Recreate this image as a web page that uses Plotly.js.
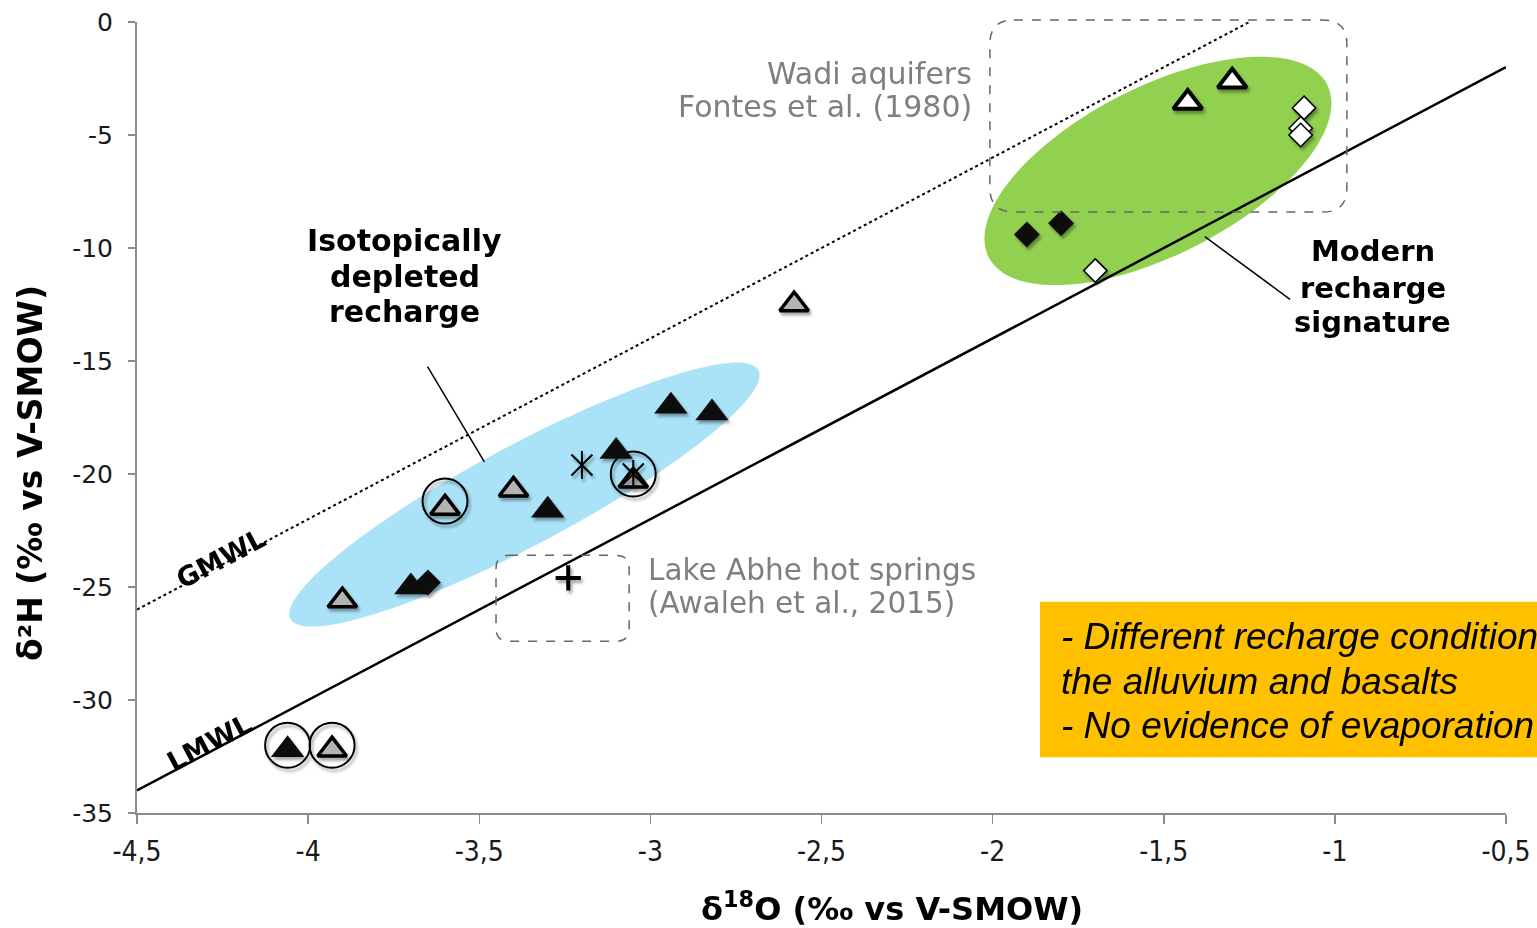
<!DOCTYPE html>
<html>
<head>
<meta charset="utf-8">
<script src="https://cdn.plot.ly/plotly-3.0.1.min.js"></script>
<style>
  html, body { margin: 0; padding: 0; background: #ffffff; }
  #chart { width: 1537px; height: 928px; }
</style>
</head>
<body>
<div id="chart"></div>
<script>
// Stable isotopes of groundwater: δ18O vs δ2H (‰ vs V-SMOW)

// Basalt aquifer samples (black triangles)
const basaltX = [-3.70, -3.30, -3.10, -2.94, -2.82, -4.06];
const basaltY = [-25.0, -21.6, -19.0, -17.0, -17.3, -32.2];
// Alluvial aquifer samples (grey triangles)
const alluviumX = [-3.90, -3.60, -3.40, -3.05, -2.58, -3.93];
const alluviumY = [-25.6, -21.5, -20.7, -20.3, -12.5, -32.2];
// Wadi aquifers, Fontes et al. (1980) (white triangles)
const wadiTriX = [-1.43, -1.30];
const wadiTriY = [-3.56, -2.62];
// Black diamonds
const blackDiaX = [-3.65, -1.90, -1.80];
const blackDiaY = [-24.8, -9.4, -8.9];
// White diamonds
const whiteDiaX = [-1.09, -1.10, -1.10, -1.70];
const whiteDiaY = [-3.8, -4.7, -5.0, -11.0];
// Star samples
const starX = [-3.20, -3.05];
const starY = [-19.6, -20.0];
// Lake Abhe hot springs, Awaleh et al. (2015)
const hotSpringX = [-3.24];
const hotSpringY = [-24.6];
// Highlighted samples (rings)
const ringX = [-3.60, -3.05, -4.06, -3.93];
const ringY = [-21.2, -20.0, -32.0, -32.0];

// Meteoric water lines
const gmwlX = [-4.5, -1.25];
const gmwlY = [-26, 0];
const lmwlX = [-4.5, -0.5];
const lmwlY = [-34, -2];

// Axis ticks
const xTicks = [-4.5, -4, -3.5, -3, -2.5, -2, -1.5, -1, -0.5];
const xTickText = ['-4,5', '-4', '-3,5', '-3', '-2,5', '-2', '-1,5', '-1', '-0,5'];
const yTicks = [0, -5, -10, -15, -20, -25, -30, -35];
const yTickText = ['0', '-5', '-10', '-15', '-20', '-25', '-30', '-35'];

// ---------------------------------------------------------------
const FIG_W = 1537, FIG_H = 928;
const M = { l: 137, r: 31, t: 22, b: 115 };
const PW = FIG_W - M.l - M.r, PH = FIG_H - M.t - M.b;
const XR = [-4.5, -0.5], YR = [-35, 0];
const toPaper = (x, y) => [(x - XR[0]) / (XR[1] - XR[0]), (y - YR[0]) / (YR[1] - YR[0])];

// rotated ellipse (centre in data units, semi-axes in px, angle in degrees)
function ellipsePath(cx, cy, a, b, deg) {
  const [px, py] = toPaper(cx, cy);
  const th = deg * Math.PI / 180;
  let d = '';
  for (let i = 0; i <= 120; i++) {
    const t = 2 * Math.PI * i / 120;
    const dx = a * Math.cos(t) * Math.cos(th) - b * Math.sin(t) * Math.sin(th);
    const dy = a * Math.cos(t) * Math.sin(th) + b * Math.sin(t) * Math.cos(th);
    d += (i ? 'L' : 'M') + (px + dx / PW).toFixed(5) + ',' + (py + dy / PH).toFixed(5);
  }
  return d + 'Z';
}

// rounded rectangle (corners in data units, radius in px)
function roundRectPath(x0, y0, x1, y1, r) {
  const [a0, b0] = toPaper(x0, y0);
  const [a1, b1] = toPaper(x1, y1);
  const L = Math.min(a0, a1), R = Math.max(a0, a1);
  const B = Math.min(b0, b1), T = Math.max(b0, b1);
  const rx = r / PW, ry = r / PH;
  const f = v => v.toFixed(5);
  return 'M' + f(L + rx) + ',' + f(T) +
    'L' + f(R - rx) + ',' + f(T) + 'Q' + f(R) + ',' + f(T) + ' ' + f(R) + ',' + f(T - ry) +
    'L' + f(R) + ',' + f(B + ry) + 'Q' + f(R) + ',' + f(B) + ' ' + f(R - rx) + ',' + f(B) +
    'L' + f(L + rx) + ',' + f(B) + 'Q' + f(L) + ',' + f(B) + ' ' + f(L) + ',' + f(B + ry) +
    'L' + f(L) + ',' + f(T - ry) + 'Q' + f(L) + ',' + f(T) + ' ' + f(L + rx) + ',' + f(T) + 'Z';
}

const traces = [
  { x: gmwlX, y: gmwlY, mode: 'lines', line: { color: '#000', width: 2, dash: 'dot' }, hoverinfo: 'skip' },
  { x: lmwlX, y: lmwlY, mode: 'lines', line: { color: '#000', width: 2.5 }, hoverinfo: 'skip' },
  { x: ringX, y: ringY, mode: 'markers',
    marker: { symbol: 'circle-open', size: 45, color: '#000', line: { width: 2, color: '#000' } } },
  { x: basaltX, y: basaltY, mode: 'markers',
    marker: { symbol: 'triangle-up', size: 29, color: '#0d0d0d', line: { width: 0 } } },
  { x: alluviumX, y: alluviumY, mode: 'markers',
    marker: { symbol: 'triangle-up', size: 25, color: '#b3b3b3', line: { width: 3.5, color: '#000' } } },
  { x: wadiTriX, y: wadiTriY, mode: 'markers',
    marker: { symbol: 'triangle-up', size: 25, color: '#ffffff', line: { width: 4, color: '#000' } } },
  { x: blackDiaX, y: blackDiaY, mode: 'markers',
    marker: { symbol: 'diamond', size: 20, color: '#0d0d0d', line: { width: 0 } } },
  { x: whiteDiaX, y: whiteDiaY, mode: 'markers',
    marker: { symbol: 'diamond', size: 18, color: '#ffffff', line: { width: 1.5, color: '#000' } } },
  { x: starX, y: starY, mode: 'markers',
    marker: { symbol: 'line-ns-open', size: 20, color: '#000', line: { width: 2, color: '#000' } } },
  { x: starX, y: starY, mode: 'markers',
    marker: { symbol: 'x-thin-open', size: 21, color: '#000', line: { width: 2, color: '#000' } } },
  { x: hotSpringX, y: hotSpringY, mode: 'markers',
    marker: { symbol: 'cross-thin-open', size: 18, color: '#000', line: { width: 4, color: '#000' } } }
];

const shapes = [
  { type: 'path', xref: 'paper', yref: 'paper', layer: 'below',
    path: ellipsePath(-3.368, -20.91, 265, 50, 28), fillcolor: '#aae3f7', line: { width: 0 } },
  { type: 'path', xref: 'paper', yref: 'paper', layer: 'below',
    path: ellipsePath(-1.517, -6.59, 190, 84, 27), fillcolor: '#92d050', line: { width: 0 } },
  { type: 'path', xref: 'paper', yref: 'paper', layer: 'above',
    path: roundRectPath(-2.008, 0.09, -0.965, -8.41, 24), line: { color: '#666', width: 1.5, dash: 'dash' } },
  { type: 'path', xref: 'paper', yref: 'paper', layer: 'above',
    path: roundRectPath(-3.451, -23.6, -3.062, -27.4, 13), line: { color: '#666', width: 1.5, dash: 'dash' } },
  // leader lines
  { type: 'line', xref: 'x', yref: 'y', x0: -3.651, y0: -15.25, x1: -3.485, y1: -19.46, line: { color: '#000', width: 1.5 } },
  { type: 'line', xref: 'x', yref: 'y', x0: -1.380, y0: -9.50, x1: -1.131, y1: -12.27, line: { color: '#000', width: 1.5 } },
  // key-findings box
  { type: 'rect', xref: 'paper', yref: 'paper', x0: 0.6596, x1: 1.1, y0: 0.0704, y1: 0.2671,
    fillcolor: '#ffc000', line: { width: 0 }, layer: 'above' }
];

const BOLD = 'DejaVu Sans, Verdana, sans-serif';
const GREY = '#7f7f7f';
const ann = [];
function addLines(lines, x, ys, opts) {
  lines.forEach((t, i) => ann.push(Object.assign({
    text: t, x: x, y: ys[i], xref: 'x', yref: 'y', showarrow: false, yanchor: 'middle'
  }, opts)));
}
addLines(['<b>Isotopically</b>', '<b>depleted</b>', '<b>recharge</b>'], -3.717, [-9.69, -11.24, -12.79],
  { xanchor: 'center', font: { family: BOLD, size: 30, color: '#000' } });
addLines(['<b>Modern</b>', '<b>recharge</b>', '<b>signature</b>'], -0.889, [-10.14, -11.77, -13.28],
  { xanchor: 'center', font: { family: BOLD, size: 29, color: '#000' } });
addLines(['Wadi aquifers', 'Fontes et al. (1980)'], -2.054, [-2.26, -3.76],
  { xanchor: 'right', font: { family: BOLD, size: 30, color: GREY } });
addLines(['Lake Abhe hot springs', '(Awaleh et al., 2015)'], -3.012, [-24.25, -25.72],
  { xanchor: 'left', font: { family: BOLD, size: 29.5, color: GREY } });
addLines(['<i>- Different recharge conditions in</i>', '<i>the alluvium and basalts</i>', '<i>- No evidence of evaporation</i>'],
  -1.806, [-27.17, -29.16, -31.15],
  { xanchor: 'left', font: { family: 'Liberation Sans, Arial, sans-serif', size: 37, color: '#000' } });
ann.push({ text: '<b>GMWL</b>', x: -4.255, y: -23.75, xref: 'x', yref: 'y', showarrow: false,
  textangle: -27.8, font: { family: BOLD, size: 27, color: '#000' } });
ann.push({ text: '<b>LMWL</b>', x: -4.287, y: -31.9, xref: 'x', yref: 'y', showarrow: false,
  textangle: -27.8, font: { family: BOLD, size: 27, color: '#000' } });
// axis titles
ann.push({ text: '<b>δ<sup>18</sup>O (‰ vs V-SMOW)</b>', xref: 'paper', yref: 'paper', x: 0.5515, y: -0.119,
  xanchor: 'center', yanchor: 'middle', showarrow: false, borderpad: 0,
  font: { family: BOLD, size: 32, color: '#000' } });
ann.push({ text: '<b>δ²H (‰ vs V-SMOW)</b>', xref: 'paper', yref: 'paper', x: -0.0782, y: 0.4298,
  xanchor: 'center', yanchor: 'middle', textangle: -90, showarrow: false,
  font: { family: BOLD, size: 33, color: '#000' } });

const layout = {
  width: FIG_W, height: FIG_H,
  margin: M,
  paper_bgcolor: '#ffffff', plot_bgcolor: '#ffffff',
  showlegend: false,
  xaxis: {
    range: XR, tickvals: xTicks, ticktext: xTickText,
    showgrid: false, zeroline: false, showline: true, linecolor: '#8c8c8c', linewidth: 2,
    ticks: 'outside', ticklen: 9, tickwidth: 1.5, tickcolor: '#8c8c8c',
    ticklabelstandoff: 3,
    tickfont: { family: 'Liberation Sans Narrow, DejaVu Sans Condensed, sans-serif', size: 28, color: '#1a1a1a' },
    automargin: false
  },
  yaxis: {
    range: YR, tickvals: yTicks, ticktext: yTickText,
    showgrid: false, zeroline: false, showline: true, linecolor: '#8c8c8c', linewidth: 2,
    ticks: 'outside', ticklen: 7, tickwidth: 1.5, tickcolor: '#8c8c8c',
    ticklabelstandoff: 10,
    tickfont: { family: 'DejaVu Sans, Verdana, sans-serif', size: 25, color: '#1a1a1a' },
    automargin: false
  },
  shapes: shapes,
  annotations: ann
};

Plotly.newPlot('chart', traces, layout, { staticPlot: true, displayModeBar: false }).then(gd => {
  // soft drop shadow under the sample markers
  const svg = gd.querySelector('svg.main-svg');
  const ns = 'http://www.w3.org/2000/svg';
  let defs = svg.querySelector('defs');
  if (!defs) { defs = document.createElementNS(ns, 'defs'); svg.insertBefore(defs, svg.firstChild); }
  const filt = document.createElementNS(ns, 'filter');
  filt.setAttribute('id', 'marker-shadow');
  filt.setAttribute('x', '-50%'); filt.setAttribute('y', '-50%');
  filt.setAttribute('width', '200%'); filt.setAttribute('height', '200%');
  filt.innerHTML = '<feGaussianBlur in="SourceAlpha" stdDeviation="1.6"/>' +
    '<feOffset dx="1.5" dy="3" result="o"/>' +
    '<feComponentTransfer><feFuncA type="linear" slope="0.35"/></feComponentTransfer>' +
    '<feMerge><feMergeNode/><feMergeNode in="SourceGraphic"/></feMerge>';
  defs.appendChild(filt);
  gd.querySelectorAll('.scatterlayer .trace .points').forEach(g => g.setAttribute('filter', 'url(#marker-shadow)'));
});
</script>
</body>
</html>
